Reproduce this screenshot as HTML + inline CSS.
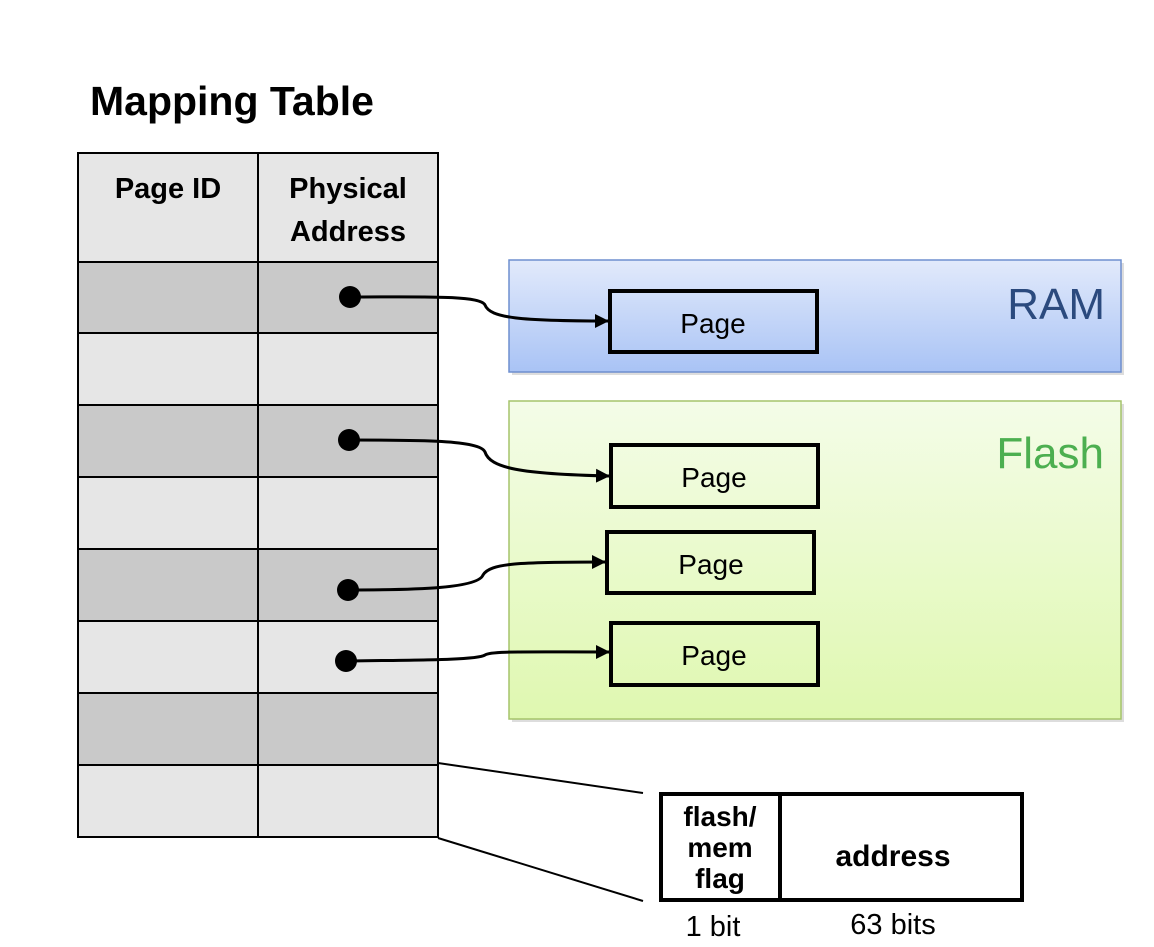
<!DOCTYPE html>
<html><head><meta charset="utf-8"><style>
body{margin:0;background:#fff}
svg text{font-family:"Liberation Sans",sans-serif}
</style></head><body>
<svg width="1154" height="942" viewBox="0 0 1154 942" xmlns="http://www.w3.org/2000/svg">
<defs>
<linearGradient id="ram" x1="0" y1="0" x2="0" y2="1"><stop offset="0" stop-color="#e2eafb"/><stop offset="1" stop-color="#a9c3f5"/></linearGradient>
<linearGradient id="fl" x1="0" y1="0" x2="0" y2="1"><stop offset="0" stop-color="#f4fce8"/><stop offset="1" stop-color="#dff8b0"/></linearGradient>
<marker id="ar" markerWidth="16" markerHeight="16" refX="13" refY="8" orient="auto" markerUnits="userSpaceOnUse"><path d="M0,1 L14,8 L0,15 z" fill="#000"/></marker>
</defs>
<text x="90" y="115" font-size="41" font-weight="bold">Mapping Table</text>
<g stroke="#000" stroke-width="2">
<rect x="78" y="153" width="360" height="109" fill="#e6e6e6"/>
<rect x="78" y="262" width="360" height="71" fill="#c9c9c9"/>
<rect x="78" y="333" width="360" height="72" fill="#e6e6e6"/>
<rect x="78" y="405" width="360" height="72" fill="#c9c9c9"/>
<rect x="78" y="477" width="360" height="72" fill="#e6e6e6"/>
<rect x="78" y="549" width="360" height="72" fill="#c9c9c9"/>
<rect x="78" y="621" width="360" height="72" fill="#e6e6e6"/>
<rect x="78" y="693" width="360" height="72" fill="#c9c9c9"/>
<rect x="78" y="765" width="360" height="72" fill="#e6e6e6"/>
<line x1="258" y1="153" x2="258" y2="837"/>
</g>
<text x="168" y="198" font-size="29" font-weight="bold" text-anchor="middle">Page ID</text>
<text x="348" y="198" font-size="29" font-weight="bold" text-anchor="middle">Physical</text>
<text x="348" y="241" font-size="29" font-weight="bold" text-anchor="middle">Address</text>

<rect x="512" y="263" width="612" height="112" fill="#bbb" opacity="0.5"/>
<rect x="509" y="260" width="612" height="112" fill="url(#ram)" stroke="#6e8fcf" stroke-width="1.5"/>
<text x="1105" y="319" font-size="44" fill="#2b4a7e" text-anchor="end">RAM</text>
<rect x="512" y="404" width="612" height="318" fill="#bbb" opacity="0.5"/>
<rect x="509" y="401" width="612" height="318" fill="url(#fl)" stroke="#a5c46b" stroke-width="1.5"/>
<text x="1104" y="468" font-size="44" fill="#4caf50" text-anchor="end">Flash</text>

<g stroke="#000" stroke-width="4" fill="none">
<rect x="610" y="291" width="207" height="61"/>
<rect x="611" y="445" width="207" height="62"/>
<rect x="607" y="532" width="207" height="61"/>
<rect x="611" y="623" width="207" height="62"/>
</g>
<g font-size="28" text-anchor="middle">
<text x="713" y="333">Page</text>
<text x="714" y="487">Page</text>
<text x="711" y="574">Page</text>
<text x="714" y="665">Page</text>
</g>
<g stroke="#000" stroke-width="3" fill="none" marker-end="url(#ar)">
<path d="M350,297 C420,297 480,295 485,305 C490,318 520,321 608,321"/>
<path d="M349,440 C420,440 480,440 485,452 C490,468 520,474 609,476"/>
<path d="M348,590 C420,590 478,588 483,575 C490,563 520,562 605,562"/>
<path d="M346,661 C420,660 478,660 485,655 C490,651 520,652 609,652"/>
</g>
<g fill="#000">
<circle cx="350" cy="297" r="11"/><circle cx="349" cy="440" r="11"/>
<circle cx="348" cy="590" r="11"/><circle cx="346" cy="661" r="11"/>
</g>

<g stroke="#000" stroke-width="2">
<line x1="438" y1="763" x2="643" y2="793"/>
<line x1="438" y1="838" x2="643" y2="901"/>
</g>
<rect x="661" y="794" width="361" height="106" fill="#fff" stroke="#000" stroke-width="4"/>
<line x1="780" y1="794" x2="780" y2="900" stroke="#000" stroke-width="4"/>
<g font-size="28" font-weight="bold" text-anchor="middle">
<text x="720" y="826">flash/</text>
<text x="720" y="857">mem</text>
<text x="720" y="888">flag</text>
<text x="893" y="866" font-size="30">address</text>
</g>
<text x="713" y="936" font-size="29" text-anchor="middle">1 bit</text>
<text x="893" y="934" font-size="29" text-anchor="middle">63 bits</text>
</svg>
</body></html>
